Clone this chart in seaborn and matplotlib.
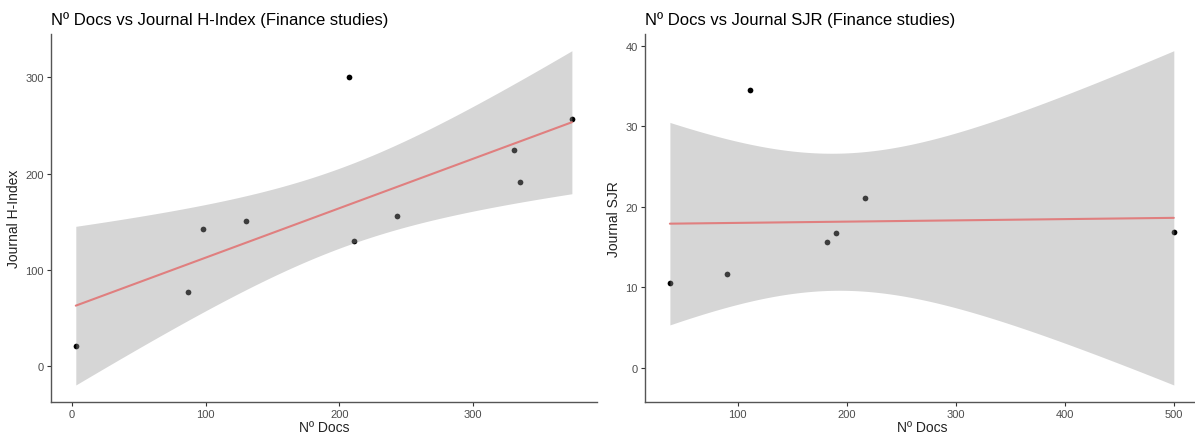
import numpy as np
import pandas as pd
import matplotlib
matplotlib.use("Agg")
import matplotlib.pyplot as plt
from matplotlib.ticker import MultipleLocator
import seaborn as sns

# Finance studies: number of documents vs journal metrics
hindex_docs = [3, 87, 98, 130, 207, 211, 243, 331, 335, 374]
hindex_vals = [21, 77, 142, 151, 300, 130, 156, 224, 191, 257]

sjr_docs = [38, 90, 111, 182, 190, 217, 500]
sjr_vals = [10.6, 11.7, 34.5, 15.6, 16.7, 21.1, 16.9]

titles = ["Nº Docs vs Journal H-Index (Finance studies)",
          "Nº Docs vs Journal SJR (Finance studies)"]
ylabels = ["Journal H-Index", "Journal SJR"]
xlabel = "Nº Docs"
x_steps = [100, 100]
y_steps = [100, 10]

sns.set_style("white")
plt.rcParams["font.family"] = ["Liberation Sans", "DejaVu Sans"]

# two-sided 95% Student t quantiles
try:
    from scipy import stats as _st

    def t95(df):
        return _st.t.ppf(0.975, df)
except Exception:
    _T = {5: 2.570582, 8: 2.306004}

    def t95(df):
        return _T[df]


def lm_band(x, y, grid):
    """Linear fit with a 95% confidence band for the mean."""
    x = np.asarray(x, float)
    y = np.asarray(y, float)
    n = len(x)
    b1, b0 = np.polyfit(x, y, 1)
    resid = y - (b0 + b1 * x)
    s = np.sqrt(np.sum(resid ** 2) / (n - 2))
    sxx = np.sum((x - x.mean()) ** 2)
    se = s * np.sqrt(1.0 / n + (grid - x.mean()) ** 2 / sxx)
    fit = b0 + b1 * grid
    t = t95(n - 2)
    return fit - t * se, fit + t * se


W, H = 1195, 439
fig = plt.figure(figsize=(W / 100, H / 100), dpi=100)
boxes = [
    (51, 596.7),
    (644.7, 1199),
]
bottom, top = 36.3, 404.0

panels = [
    (hindex_docs, hindex_vals),
    (sjr_docs, sjr_vals),
]

for (x0, x1), (xs, ys), title, ylab, xst, yst in zip(
        boxes, panels, titles, ylabels, x_steps, y_steps):
    ax = fig.add_axes([x0 / W, bottom / H, (x1 - x0) / W, (top - bottom) / H])
    df = pd.DataFrame({"docs": xs, "metric": ys})
    sns.regplot(data=df, x="docs", y="metric", ax=ax, ci=None,
                scatter_kws=dict(s=17, color="black", alpha=1,
                                 linewidths=0, zorder=1),
                line_kws=dict(color="#E07F7F", lw=1.5, zorder=3))
    grid = np.linspace(min(xs), max(xs), 120)
    lo, hi = lm_band(xs, ys, grid)
    ax.fill_between(grid, lo, hi, color="#999999", alpha=0.4, lw=0, zorder=2)
    ax.margins(x=0.05, y=0.05)
    ax.autoscale_view()
    ax.xaxis.set_major_locator(MultipleLocator(xst))
    ax.yaxis.set_major_locator(MultipleLocator(yst))

    sns.despine(ax=ax)
    for side in ("left", "bottom"):
        ax.spines[side].set_color("#555555")
        ax.spines[side].set_linewidth(1.0)
    ax.tick_params(axis="both", length=3, width=0.8, color="#333333",
                   labelcolor="#4D4D4D", labelsize=8, pad=2,
                   bottom=True, left=True)
    ax.set_title(title, loc="left", fontsize=12, color="black", pad=7)
    ax.set_xlabel(xlabel, fontsize=10, color="#222222", labelpad=1)
    ax.set_ylabel(ylab, fontsize=10, color="#222222", labelpad=3)

fig.savefig("out.png", dpi=100)
